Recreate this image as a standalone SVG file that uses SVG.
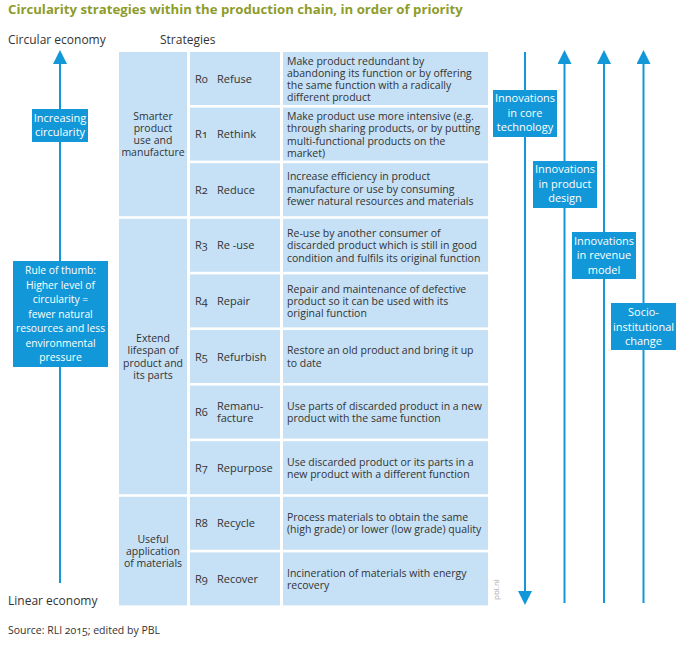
<svg xmlns="http://www.w3.org/2000/svg" width="695" height="648" viewBox="0 0 695 648">
<style>
text{font-family:"Open Sans","Noto Sans","DejaVu Sans",sans-serif;fill:#333;}
.title{font-size:13.2px;font-weight:bold;fill:#8e9c2b;}
.hdr{font-size:12px;}
.cell{fill:#c6e1f6;}
.grp{font-size:10.5px;text-anchor:middle;}
.lab{font-size:11px;font-variant-numeric:oldstyle-nums;}
.desc{font-size:10.5px;}
.box{fill:#1298d8;}
.bt{font-size:11px;fill:#fff;text-anchor:middle;}
.bts{font-size:10.3px;fill:#fff;text-anchor:middle;}
.ln{stroke:#1298d8;stroke-width:2;fill:none;}
.src{font-size:10.5px;font-variant-numeric:oldstyle-nums;}
.pbl{font-size:8px;fill:#a8a8a8;}
</style>
<defs>
<marker id="ah" viewBox="0 0 14 14" refX="0" refY="7" markerWidth="14" markerHeight="14" markerUnits="userSpaceOnUse" orient="auto">
<path d="M0,0 L14,7 L0,14 z" fill="#1298d8"/>
</marker>
</defs>
<rect width="695" height="648" fill="#fff"/>
<text class="title" x="8" y="14">Circularity strategies within the production chain, in order of priority</text>
<text class="hdr" x="8" y="44">Circular economy</text>
<text class="hdr" x="160" y="44">Strategies</text>
<text class="hdr" x="8" y="605">Linear economy</text>
<text class="src" x="8" y="634">Source: RLI 2015; edited by PBL</text>
<text class="pbl" transform="translate(499,600) rotate(-90)">pbl.nl</text>

<g id="connectors">
<line class="ln" x1="60" y1="583" x2="60" y2="64" marker-end="url(#ah)"/>
<line class="ln" x1="525" y1="52" x2="525" y2="591" marker-end="url(#ah)"/>
<line class="ln" x1="564.5" y1="603" x2="564.5" y2="64" marker-end="url(#ah)"/>
<line class="ln" x1="604" y1="603" x2="604" y2="64" marker-end="url(#ah)"/>
<line class="ln" x1="643.5" y1="603" x2="643.5" y2="64" marker-end="url(#ah)"/>
</g>

<g id="increasing-circularity">
<rect class="box" x="32" y="109" width="56" height="33"/>
<text class="bt" x="60" y="122">Increasing</text>
<text class="bt" x="60" y="136">circularity</text>
</g>
<g id="rule-of-thumb">
<rect class="box" x="13" y="261" width="95" height="106"/>
<text class="bts" x="60.5" y="274">Rule of thumb:</text>
<text class="bts" x="60.5" y="288.5">Higher level of</text>
<text class="bts" x="60.5" y="303">circularity =</text>
<text class="bts" x="60.5" y="317.5">fewer natural</text>
<text class="bts" x="60.5" y="332">resources and less</text>
<text class="bts" x="60.5" y="346.5">environmental</text>
<text class="bts" x="60.5" y="361">pressure</text>
</g>
<g id="core-technology">
<rect class="box" x="493" y="90" width="64" height="47"/>
<text class="bt" x="525" y="102">Innovations</text>
<text class="bt" x="525" y="117">in core</text>
<text class="bt" x="525" y="131">technology</text>
</g>
<g id="product-design">
<rect class="box" x="533" y="161" width="64" height="47"/>
<text class="bt" x="565" y="173">Innovations</text>
<text class="bt" x="565" y="188">in product</text>
<text class="bt" x="565" y="202">design</text>
</g>
<g id="revenue-model">
<rect class="box" x="572" y="232" width="64" height="47"/>
<text class="bt" x="604" y="245">Innovations</text>
<text class="bt" x="604" y="259">in revenue</text>
<text class="bt" x="604" y="274">model</text>
</g>
<g id="socio-institutional">
<rect class="box" x="611" y="303" width="65" height="47"/>
<text class="bt" x="643.5" y="316">Socio-</text>
<text class="bt" x="643.5" y="331">institutional</text>
<text class="bt" x="643.5" y="345">change</text>
</g>

<g id="group-smarter">
<rect class="cell" x="119" y="52" width="68" height="164.2"/>
<text class="grp" x="153" y="119.8">Smarter</text>
<text class="grp" x="153" y="132">product</text>
<text class="grp" x="153" y="144.2">use and</text>
<text class="grp" x="153" y="156.4">manufacture</text>
</g>
<g id="group-extend">
<rect class="cell" x="119" y="218.8" width="68" height="275.4"/>
<text class="grp" x="153" y="342.2">Extend</text>
<text class="grp" x="153" y="354.4">lifespan of</text>
<text class="grp" x="153" y="366.6">product and</text>
<text class="grp" x="153" y="378.8">its parts</text>
</g>
<g id="group-useful">
<rect class="cell" x="119" y="496.8" width="68" height="108.6"/>
<text class="grp" x="153" y="542.9">Useful</text>
<text class="grp" x="153" y="555.1">application</text>
<text class="grp" x="153" y="567.3">of materials</text>
</g>

<g id="r0">
<rect class="cell" x="190" y="52" width="90" height="53"/>
<text class="lab" x="195" y="82.5">R0</text><text class="lab" x="217" y="82.5">Refuse</text>
<rect class="cell" x="283" y="52" width="205" height="53"/>
<text class="desc" x="287" y="64.5">Make product redundant by</text>
<text class="desc" x="287" y="76.8">abandoning its function or by offering</text>
<text class="desc" x="287" y="89.1">the same function with a radically</text>
<text class="desc" x="287" y="101.4">different product</text>
</g>
<g id="r1">
<rect class="cell" x="190" y="107.6" width="90" height="53"/>
<text class="lab" x="195" y="138.1">R1</text><text class="lab" x="217" y="138.1">Rethink</text>
<rect class="cell" x="283" y="107.6" width="205" height="53"/>
<text class="desc" x="287" y="120.1">Make product use more intensive (e.g.</text>
<text class="desc" x="287" y="132.4">through sharing products, or by putting</text>
<text class="desc" x="287" y="144.7">multi-functional products on the</text>
<text class="desc" x="287" y="157">market)</text>
</g>
<g id="r2">
<rect class="cell" x="190" y="163.2" width="90" height="53"/>
<text class="lab" x="195" y="193.7">R2</text><text class="lab" x="217" y="193.7">Reduce</text>
<rect class="cell" x="283" y="163.2" width="205" height="53"/>
<text class="desc" x="287" y="180.4">Increase efficiency in product</text>
<text class="desc" x="287" y="192.7">manufacture  or use by consuming</text>
<text class="desc" x="287" y="205">fewer natural resources and materials</text>
</g>
<g id="r3">
<rect class="cell" x="190" y="218.8" width="90" height="53"/>
<text class="lab" x="195" y="249.3">R3</text><text class="lab" x="217" y="249.3">Re -use</text>
<rect class="cell" x="283" y="218.8" width="205" height="53"/>
<text class="desc" x="287" y="237">Re-use by another consumer of</text>
<text class="desc" x="287" y="249.3">discarded product which is still in good</text>
<text class="desc" x="287" y="261.6">condition and fulfils its original function</text>
</g>
<g id="r4">
<rect class="cell" x="190" y="274.4" width="90" height="53"/>
<text class="lab" x="195" y="304.9">R4</text><text class="lab" x="217" y="304.9">Repair</text>
<rect class="cell" x="283" y="274.4" width="205" height="53"/>
<text class="desc" x="287" y="292.6">Repair and maintenance of defective</text>
<text class="desc" x="287" y="304.9">product so it can be used with its</text>
<text class="desc" x="287" y="317.2">original function</text>
</g>
<g id="r5">
<rect class="cell" x="190" y="330" width="90" height="53"/>
<text class="lab" x="195" y="360.5">R5</text><text class="lab" x="217" y="360.5">Refurbish</text>
<rect class="cell" x="283" y="330" width="205" height="53"/>
<text class="desc" x="287" y="354.3">Restore an old product and bring it up</text>
<text class="desc" x="287" y="366.6">to date</text>
</g>
<g id="r6">
<rect class="cell" x="190" y="385.6" width="90" height="53"/>
<text class="lab" x="195" y="416.1">R6</text>
<text class="lab" x="217" y="410">Remanu-</text>
<text class="lab" x="217" y="422.3">facture</text>
<rect class="cell" x="283" y="385.6" width="205" height="53"/>
<text class="desc" x="287" y="409.9">Use parts of discarded product in a new</text>
<text class="desc" x="287" y="422.2">product with the same function</text>
</g>
<g id="r7">
<rect class="cell" x="190" y="441.2" width="90" height="53"/>
<text class="lab" x="195" y="471.7">R7</text><text class="lab" x="217" y="471.7">Repurpose</text>
<rect class="cell" x="283" y="441.2" width="205" height="53"/>
<text class="desc" x="287" y="465.5">Use discarded product or its parts in a</text>
<text class="desc" x="287" y="477.8">new product with a different function</text>
</g>
<g id="r8">
<rect class="cell" x="190" y="496.8" width="90" height="53"/>
<text class="lab" x="195" y="527.3">R8</text><text class="lab" x="217" y="527.3">Recycle</text>
<rect class="cell" x="283" y="496.8" width="205" height="53"/>
<text class="desc" x="287" y="521.1">Process materials to obtain the same</text>
<text class="desc" x="287" y="533.4">(high grade) or lower (low grade) quality</text>
</g>
<g id="r9">
<rect class="cell" x="190" y="552.4" width="90" height="53"/>
<text class="lab" x="195" y="582.9">R9</text><text class="lab" x="217" y="582.9">Recover</text>
<rect class="cell" x="283" y="552.4" width="205" height="53"/>
<text class="desc" x="287" y="576.7">Incineration of materials with energy</text>
<text class="desc" x="287" y="589">recovery</text>
</g>
</svg>
